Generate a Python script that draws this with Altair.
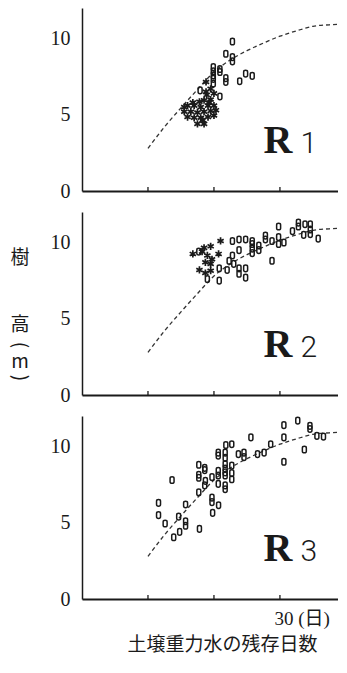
import altair as alt
import pandas as pd

# ---------------- data ----------------
tick_days = [10, 20, 30]
y_tick_values = [0, 5, 10]

# R1 : squares ("o") and asterisks
r1_o_x = [22.8, 21.8, 22.8, 22.8, 19.9, 19.9, 19.9, 20.9, 20.9, 21.8, 21.8, 23.9, 24.8, 25.8, 17.9, 20.9, 19.9, 19.9]
r1_o_y = [9.8, 9.0, 8.78, 8.5, 8.12, 7.85, 7.58, 8.0, 7.8, 7.4, 7.15, 7.2, 7.7, 7.55, 6.6, 6.2, 7.35, 7.05]
r1_s_x = [18.8, 19.5, 18.9, 20.0, 19.5, 18.5, 16.0, 17.0, 18.0, 19.1, 20.0, 15.5, 16.5, 17.5, 18.5, 19.5,
          20.3, 16.0, 17.0, 18.0, 19.1, 17.5, 18.5, 15.5, 16.8, 17.8, 19.3, 18.3, 20.0, 18.8]
r1_s_y = [7.15, 6.7, 6.3, 6.4, 6.0, 5.95, 5.6, 5.6, 5.5, 5.6, 5.6, 5.2, 5.2, 5.15, 5.2, 5.25,
          5.3, 4.85, 4.8, 4.8, 4.85, 4.4, 4.4, 5.5, 5.8, 5.85, 5.8, 4.65, 4.95, 6.5]

# R2
r2_o_x = [17.7, 19.0, 20.8, 20.8, 22.0, 22.3, 22.8, 23.0, 23.8, 22.8, 23.8, 24.8, 25.8, 25.8, 25.8, 25.8,
          23.8, 23.8, 24.8, 24.8, 26.8, 26.8, 27.8, 27.8, 28.8, 28.8, 29.8, 29.8, 29.8, 30.6, 31.9,
          32.8, 32.8, 33.8, 34.6, 34.6, 33.6, 34.6, 35.8]
r2_o_y = [9.4, 7.6, 8.3, 7.5, 8.2, 8.8, 9.15, 8.6, 9.5, 10.1, 10.2, 10.2, 10.1, 9.9, 9.6, 9.3,
          8.3, 7.95, 8.3, 7.7, 9.5, 9.8, 10.45, 10.2, 10.1, 8.8, 10.35, 9.9, 11.05, 10.0, 10.75,
          11.3, 11.05, 11.2, 11.2, 10.85, 10.5, 10.55, 10.25]
r2_s_x = [16.8, 18.5, 19.5, 21.0, 20.7, 19.0, 18.7, 19.5, 17.8, 18.7, 19.5, 19.7, 18.2]
r2_s_y = [9.25, 9.65, 9.75, 10.1, 9.25, 9.15, 8.7, 8.6, 8.2, 8.0, 8.15, 8.9, 9.4]

# R3
r3_o_x = [11.6, 11.6, 12.6, 13.65, 14.65, 13.9, 14.8, 15.7, 15.7, 15.7, 17.8, 17.7, 17.7, 17.7, 17.7,
          18.6, 18.6, 18.7, 18.6, 19.7, 19.7, 19.7, 19.8, 20.7, 20.65, 20.65, 20.65, 20.65, 20.65,
          21.7, 21.7, 21.7, 21.7, 21.7, 21.7, 21.7, 21.7, 21.8, 22.7, 22.7, 22.7, 22.7, 23.7,
          24.55, 24.55, 25.6, 26.6, 27.6, 28.6, 30.6, 30.6, 30.6, 32.7, 33.7, 34.55, 34.55, 35.6, 36.6]
r3_o_y = [6.3, 5.5, 4.95, 7.8, 5.4, 4.05, 4.4, 6.2, 5.1, 4.8, 4.6, 7.0, 8.8, 8.15, 7.95,
          8.6, 8.45, 7.75, 7.45, 8.0, 6.65, 6.35, 5.65, 6.15, 9.6, 9.4, 8.4, 8.1, 7.55,
          9.6, 9.25, 8.85, 8.55, 8.3, 8.1, 7.45, 7.2, 10.1, 10.15, 8.75, 8.25, 7.85, 9.5,
          9.6, 9.3, 10.6, 9.5, 9.6, 10.15, 11.4, 10.6, 9.0, 11.7, 9.8, 11.35, 11.15, 10.7, 10.65]

# dashed fitted curve (same in each panel)
curve_x = [10, 12.5, 15, 17.5, 20, 22.5, 25, 27.5, 30, 32.5, 35, 37.5, 40]
curve_y = [2.8, 4.2, 5.45, 6.65, 7.8, 8.6, 9.2, 9.7, 10.15, 10.5, 10.8, 10.9, 10.95]

x_domain = [0, 38.8]          # the printed plot is cut at the right edge
y_domain = [0, 12]

panel_letter = "R"
panel_numbers = ["1", "2", "3"]
label_pos_x = [27.5, 33.1]    # letter, number (days)
label_pos_y = 2.5             # metres

# vertical y-axis title, one character per row, beside the middle panel
y_title_chars = ["樹", "高", "(", "m", ")"]
y_title_rows = [8.98, 4.59, 3.28, 2.16, 1.11]
y_title_turn = [0, 0, 90, 0, 90]
x_title = "土壌重力水の残存日数"
x_label = "30 (日)"

# ---------------- chart ----------------
O_PATH = ("M-0.6,-0.5 L-0.6,0.5 Q-0.6,1 0,1 Q0.6,1 0.6,0.5 L0.6,-0.5 "
          "Q0.6,-1 0,-1 Q-0.6,-1 -0.6,-0.5 Z")
STAR_PATH = "M0,-1L0,1M-0.87,-0.5L0.87,0.5M-0.87,0.5L0.87,-0.5"

W, H = 256, 183
INK = "#1a1a1a"


def make_panel(o_x, o_y, s_x, s_y, num, show_ytitle, bottom):
    xs = alt.Scale(domain=x_domain, nice=False, zero=False)
    ys = alt.Scale(domain=y_domain, nice=False)
    if bottom:
        xa = alt.Axis(values=[30], labelExpr=f"'{x_label}'", ticks=False, tickSize=0,
                      labelAlign="left", labelOffset=-6, labelPadding=10,
                      labelFont="Liberation Serif, Noto Sans CJK JP", labelFontSize=19,
                      title=x_title, titleFont="Noto Sans CJK JP", titleFontSize=19,
                      titleFontWeight="normal", titleX=140, titleY=45,
                      titleAlign="center", titleBaseline="middle",
                      domainWidth=2, domainColor=INK, labelColor=INK, titleColor=INK)
    else:
        xa = alt.Axis(labels=False, ticks=False, tickSize=0, title=None,
                      domainWidth=2, domainColor=INK)
    ya = alt.Axis(values=y_tick_values, ticks=False, tickSize=0, labelPadding=12,
                  labelFont="Liberation Serif", labelFontSize=20, labelColor=INK,
                  domainWidth=1.5, domainColor=INK, title=None)

    X = lambda f: alt.X(f, type="quantitative", scale=xs, axis=xa)
    Y = lambda f: alt.Y(f, type="quantitative", scale=ys, axis=ya)

    curve = alt.Chart(pd.DataFrame({"d": curve_x, "h": curve_y})).mark_line(
        color="#333", strokeWidth=1.3, strokeDash=[4, 3], interpolate="monotone", clip=True
    ).encode(x=X("d"), y=Y("h"))

    ticks = alt.Chart(pd.DataFrame({"d": tick_days})).mark_rule(
        color=INK, strokeWidth=1.3
    ).encode(x=X("d"), y=alt.value(H - 4), y2=alt.value(H))

    opts = alt.Chart(pd.DataFrame({"d": o_x, "h": o_y})).mark_point(
        shape=O_PATH, size=44, filled=False, stroke=INK, strokeWidth=1.5, opacity=1
    ).encode(x=X("d"), y=Y("h"))

    layers = [ticks, curve, opts]
    if s_x:
        stars = alt.Chart(pd.DataFrame({"d": s_x, "h": s_y})).mark_point(
            shape=STAR_PATH, size=52, filled=False, stroke=INK, strokeWidth=1.7, opacity=1
        ).encode(x=X("d"), y=Y("h"))
        layers.append(stars)

    letter = alt.Chart(pd.DataFrame({"d": [label_pos_x[0]], "h": [label_pos_y], "t": [panel_letter]})).mark_text(
        align="left", baseline="alphabetic", font="Liberation Serif", fontWeight="bold",
        fontSize=40, color=INK
    ).encode(x=X("d"), y=Y("h"), text="t:N")
    number = alt.Chart(pd.DataFrame({"d": [label_pos_x[1]], "h": [label_pos_y], "t": [num]})).mark_text(
        align="left", baseline="alphabetic", font="Roboto", fontWeight=300,
        fontSize=30, color=INK
    ).encode(x=X("d"), y=Y("h"), text="t:N")
    layers += [letter, number]

    if show_ytitle:
        ytitle = alt.Chart(pd.DataFrame({"h": y_title_rows, "t": y_title_chars, "a": y_title_turn})).mark_text(
            align="center", baseline="middle", font="Noto Sans CJK JP", fontSize=19, color=INK
        ).encode(x=alt.value(-62), y=Y("h"), text="t:N",
                 angle=alt.Angle("a:Q", scale=None))
        layers.append(ytitle)

    return alt.layer(*layers).properties(width=W, height=H)


p1 = make_panel(r1_o_x, r1_o_y, r1_s_x, r1_s_y, panel_numbers[0], False, False)
p2 = make_panel(r2_o_x, r2_o_y, r2_s_x, r2_s_y, panel_numbers[1], True, False)
p3 = make_panel(r3_o_x, r3_o_y, [], [], panel_numbers[2], False, True)

chart = alt.vconcat(p1, p2, p3, spacing=21, bounds="flush").properties(
    padding={"left": 2, "top": 0, "right": 0, "bottom": 0},
    background="white",
).configure_view(stroke=None).configure_axis(grid=False)

chart.save("out.html", embed_options={"renderer": "svg", "actions": False})
